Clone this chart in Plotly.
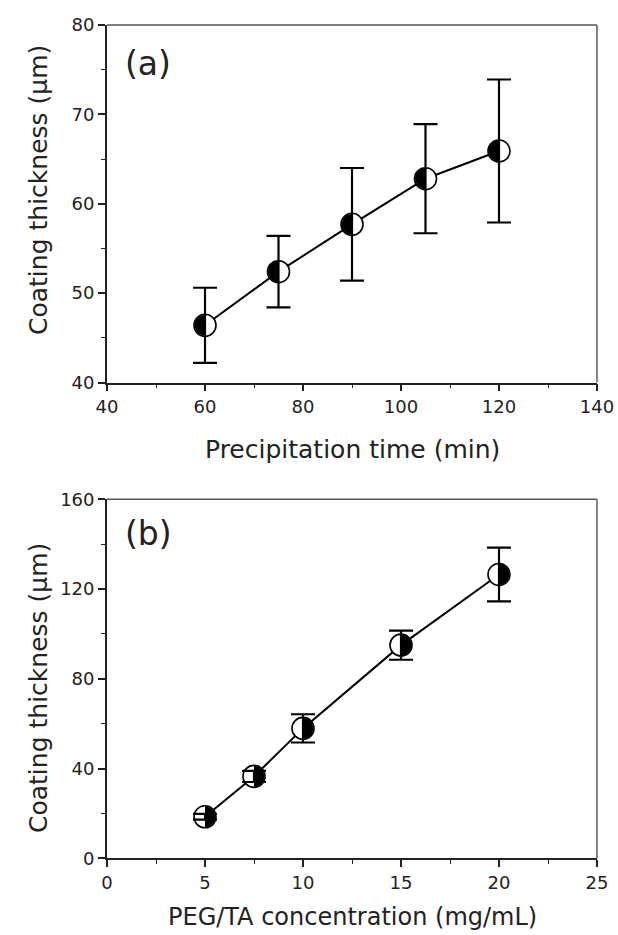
import plotly.graph_objects as go

# Panel (a): coating thickness vs precipitation time
time_min = [60, 75, 90, 105, 120]
thick_a = [46.4, 52.4, 57.7, 62.8, 65.9]
err_a = [4.2, 4.0, 6.3, 6.1, 8.0]

# Panel (b): coating thickness vs PEG/TA concentration
conc = [5, 7.5, 10, 15, 20]
thick_b = [18.5, 36.5, 57.9, 95.0, 126.5]
err_b = [1.3, 2.5, 6.3, 6.5, 12.0]

FONT = "DejaVu Sans"
R = 11  # marker radius (px)

fig = go.Figure()

def add_series(x, y, e, xa, ya):
    fig.add_trace(go.Scatter(x=x, y=y, mode="lines", xaxis=xa, yaxis=ya,
                             line=dict(color="black", width=2), showlegend=False,
                             hoverinfo="skip"))
    fig.add_trace(go.Scatter(x=x, y=y, mode="markers", xaxis=xa, yaxis=ya,
                             marker=dict(symbol="circle", size=2 * R, color="white",
                                         line=dict(color="black", width=1.6)),
                             showlegend=False))
    fig.add_trace(go.Scatter(x=x, y=y, mode="markers", xaxis=xa, yaxis=ya,
                             marker=dict(size=1, color="rgba(0,0,0,0)"),
                             error_y=dict(type="data", array=e, visible=True,
                                          color="black", thickness=2.2, width=12),
                             showlegend=False))

add_series(time_min, thick_a, err_a, "x", "y")
add_series(conc, thick_b, err_b, "x2", "y2")

k = 0.5523
r = R - 0.6
left_half = (f"M 0,{r} C {-k*r},{r} {-r},{k*r} {-r},0 "
             f"C {-r},{-k*r} {-k*r},{-r} 0,{-r} Z")
right_half = (f"M 0,{r} C {k*r},{r} {r},{k*r} {r},0 "
              f"C {r},{-k*r} {k*r},{-r} 0,{-r} Z")

shapes = []
for xv, yv in zip(time_min, thick_a):
    shapes.append(dict(type="path", xref="x", yref="y", xsizemode="pixel", ysizemode="pixel",
                       xanchor=xv, yanchor=yv, path=left_half, fillcolor="black",
                       line=dict(width=0), layer="above"))
for xv, yv in zip(conc, thick_b):
    shapes.append(dict(type="path", xref="x2", yref="y2", xsizemode="pixel", ysizemode="pixel",
                       xanchor=xv, yanchor=yv, path=right_half, fillcolor="black",
                       line=dict(width=0), layer="above"))

for xr, yr in (("x domain", "y domain"), ("x2 domain", "y2 domain")):
    shapes.append(dict(type="line", xref=xr, yref=yr, x0=0, x1=1, y0=1, y1=1,
                       line=dict(color="#555555", width=1.6), layer="below"))
    shapes.append(dict(type="line", xref=xr, yref=yr, x0=1, x1=1, y0=0, y1=1,
                       line=dict(color="#666666", width=1.6), layer="below"))

xdom = [107 / 618, 597 / 618]
ydom_a = [1 - 382.5 / 935, 1 - 25 / 935]
ydom_b = [1 - 858.3 / 935, 1 - 499.3 / 935]

axis_common = dict(showgrid=False, zeroline=False, showline=True, linecolor="#222222",
                   linewidth=1.8, ticks="outside", ticklen=7, tickwidth=1.5,
                   tickcolor="#222222", tickfont=dict(family=FONT, size=18, color="#222222"),
                   mirror=False, automargin=False)

fig.update_layout(
    template="none",
    width=618, height=935,
    margin=dict(l=0, r=0, t=0, b=0, pad=0),
    paper_bgcolor="white", plot_bgcolor="white",
    xaxis=dict(domain=xdom, anchor="y", range=[40, 140], tickvals=[40, 60, 80, 100, 120, 140],
               minor=dict(tickvals=[50, 70, 90, 110, 130], ticks="outside", ticklen=4,
                          tickcolor="#222222", tickwidth=1.2),
               **axis_common),
    yaxis=dict(domain=ydom_a, anchor="x", range=[40, 80], tickvals=[40, 50, 60, 70, 80],
               minor=dict(tickvals=[45, 55, 65, 75], ticks="outside", ticklen=4,
                          tickcolor="#222222", tickwidth=1.2),
               **axis_common),
    xaxis2=dict(domain=xdom, anchor="y2", range=[0, 25], tickvals=[0, 5, 10, 15, 20, 25],
                minor=dict(tickvals=[2.5, 7.5, 12.5, 17.5, 22.5], ticks="outside", ticklen=4,
                           tickcolor="#222222", tickwidth=1.2),
                **axis_common),
    yaxis2=dict(domain=ydom_b, anchor="x2", range=[0, 160], tickvals=[0, 40, 80, 120, 160],
                minor=dict(tickvals=[20, 60, 100, 140], ticks="outside", ticklen=4,
                           tickcolor="#222222", tickwidth=1.2),
                **axis_common),
    shapes=shapes,
    annotations=[
        dict(text="(a)", x=148 / 618, y=1 - 63 / 935, xref="paper", yref="paper",
             showarrow=False, font=dict(family=FONT, size=33, color="#222222"),
             xanchor="center", yanchor="middle"),
        dict(text="(b)", x=148 / 618, y=1 - 533 / 935, xref="paper", yref="paper",
             showarrow=False, font=dict(family=FONT, size=33, color="#222222"),
             xanchor="center", yanchor="middle"),
        dict(text="Precipitation time (min)", x=352.5 / 618, y=1 - 449 / 935,
             xref="paper", yref="paper", showarrow=False,
             font=dict(family=FONT, size=25, color="#222222"),
             xanchor="center", yanchor="middle"),
        dict(text="PEG/TA concentration (mg/mL)", x=352.5 / 618, y=1 - 917 / 935,
             xref="paper", yref="paper", showarrow=False,
             font=dict(family=FONT, size=24, color="#222222"),
             xanchor="center", yanchor="middle"),
        dict(text="Coating thickness (μm)", x=38 / 618, y=1 - 190 / 935,
             xref="paper", yref="paper", showarrow=False, textangle=-90,
             font=dict(family=FONT, size=25, color="#222222"),
             xanchor="center", yanchor="middle"),
        dict(text="Coating thickness (μm)", x=38 / 618, y=1 - 688 / 935,
             xref="paper", yref="paper", showarrow=False, textangle=-90,
             font=dict(family=FONT, size=25, color="#222222"),
             xanchor="center", yanchor="middle"),
    ],
)

fig.write_html(
    "out.html",
    config={"displayModeBar": False},
    post_script="document.body.style.margin='0';document.body.style.padding='0';"
                "document.documentElement.style.overflow='hidden';",
)
